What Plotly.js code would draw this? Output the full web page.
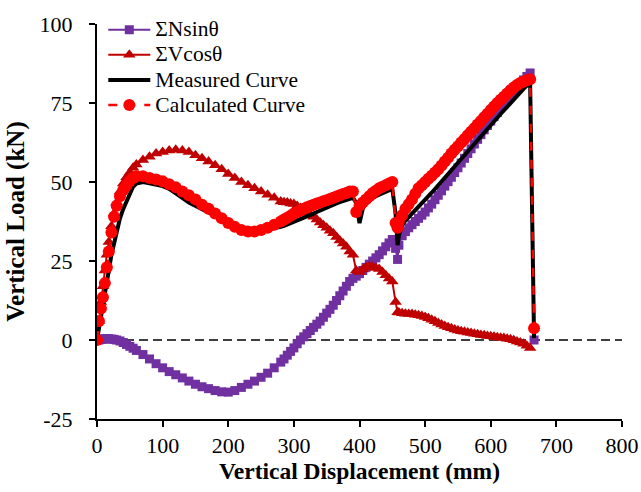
<!DOCTYPE html>
<html>
<head>
<meta charset="utf-8">
<script src="https://cdn.plot.ly/plotly-3.0.1.min.js"></script>
<style>html,body{margin:0;padding:0;background:#fff;}#chart{width:641px;height:492px;}</style>
</head>
<body>
<div id="chart"></div>
<script>
// Vertical displacement (mm)
const displacement = [0, 3, 6, 9, 12, 15, 18, 22, 26, 30, 35, 40, 45, 50, 55, 60, 70, 80, 90, 100,
  110, 120, 130, 140, 150, 160, 170, 180, 190, 200, 210, 220, 230, 240, 250, 260, 270,
  280, 285, 290, 295, 300, 305, 310, 315, 320, 325, 330, 335, 340, 345, 350, 355, 360, 365, 370, 375,
  380, 385, 390, 395, 400, 405, 410, 415, 420, 425, 430, 435, 440, 445, 450, 455, 458, 460, 465, 470, 475,
  480, 485, 490, 495, 500, 505, 510, 515, 520, 525, 530, 535, 540, 545, 550, 555, 560, 565, 570, 575,
  580, 585, 590, 595, 600, 605, 610, 615, 620, 625, 630, 635, 640, 645, 650, 655, 660, 666];

// ΣNsinθ (kN)
const nSin = [0, 0, 0.2, 0.3, 0.4, 0.4, 0.4, 0.3, 0.2, 0, -0.3, -0.8, -1.4, -2, -2.6, -3.3, -4.6, -6, -7.5, -8.8,
  -10, -11, -12, -13, -14, -14.8, -15.4, -16, -16.4, -16.5, -16, -15, -14, -13, -11.8, -10.5, -8.8,
  -7, -6, -4.8, -3.6, -2.5, -1.2, 0, 1, 2, 3, 4, 5, 6, 7.2, 8.5, 9.7, 11, 12.5, 14, 15.5,
  17, 18.5, 19.5, 20.2, 21, 22, 23, 24, 25, 26, 27, 28.2, 29.5, 30.7, 31.8, 29, 25.5, 30, 33, 34.3, 35.5,
  36.5, 37.5, 38.5, 39.5, 40.5, 41.8, 43, 44.4, 45.8, 47.2, 48.7, 50.1, 51.5, 53, 54.5, 56, 57.5, 59, 60.5, 62,
  63.5, 65, 66.5, 67.9, 69.3, 70.7, 72, 73.4, 74.7, 76, 77.3, 78.6, 79.8, 81.1, 82.3, 83.4, 84.5, 0];

// ΣVcosθ (kN)
const vCos = [0, 6, 12, 17, 22, 27, 31, 36, 40, 43.5, 47, 49.5, 51.5, 53, 54.5, 55.5, 57, 58, 59, 59.5,
  60, 60.2, 60, 59.5, 58.5, 57.5, 56.5, 55.3, 54, 52.5, 51.3, 50, 49, 48, 47, 46, 45,
  43.8, 43.6, 43.5, 43.2, 43, 42.4, 41.8, 41, 40.3, 39.7, 39, 38.1, 37.2, 36.3, 35.5, 34.6, 33.8, 32.6, 31.5, 30.5,
  29.5, 28, 27, 22, 21.5, 22.3, 23, 23.3, 23.2, 22.8, 22.5, 21.5, 20.5, 19.5, 18.5, 12, 8.8, 8.7, 8.5, 8.3, 8.2,
  8.2, 8, 7.8, 7.6, 7.3, 6.9, 6.4, 5.9, 5.4, 4.9, 4.4, 4, 3.7, 3.3, 3, 2.8, 2.6, 2.4, 2.2, 2,
  1.8, 1.6, 1.5, 1.3, 1.2, 1, 0.9, 0.7, 0.6, 0.4, 0.2, -0.1, -0.5, -0.8, -1.2, -1.8, -2.5, null];

// Measured curve (kN)
const measured = [0, 4, 8, 11, 15, 18, 22, 27, 31, 34, 38.5, 41.5, 44, 46.5, 48.5, 49.5, 50, 49.6, 49.3, 48.7,
  47.8, 46.5, 45, 43.5, 42.5, 41.5, 40.5, 39.5, 38.5, 37.5, 36.2, 35, 34.6, 34.4, 34.6, 34.9, 35.3,
  35.8, 36.1, 36.5, 36.9, 37.3, 37.8, 38.2, 38.6, 39, 39.5, 40, 40.5, 41, 41.5, 42, 42.4, 42.8, 43.2, 43.6, 44,
  44.3, 44.8, 45, 43.5, 37, 41.5, 43.5, 44.3, 45, 45.5, 46, 46.5, 47, 47.5, 47.8, 40, 30, 33, 36.5, 37.8, 38.9,
  40, 40.9, 41.8, 43, 44.2, 45.4, 46.6, 47.8, 49, 50.2, 51.5, 52.7, 53.9, 55.1, 56.3, 57.5, 58.7, 59.9, 61, 62.2,
  63.4, 64.6, 65.8, 67, 68.1, 69.3, 70.4, 71.6, 72.7, 73.8, 75, 76.1, 77.3, 78.4, 79.5, 80.5, 81.5, 0.6];

// Calculated curve (kN)
const calculated = [0, 6, 10, 13.5, 18, 23, 28, 34, 39, 42.5, 45.5, 47.5, 49, 50.3, 51.3, 51.8, 51.8, 51.3, 50.8, 50.2,
  49.3, 48.3, 47, 45.8, 44.5, 42.8, 41.5, 40, 38.5, 37, 35.8, 34.8, 34.3, 34.3, 34.8, 35.5, 36.5,
  37.5, 38.1, 38.7, 39.3, 40, 40.5, 41, 41.5, 42, 42.4, 42.8, 43.2, 43.5, 43.9, 44.2, 44.6, 45, 45.4, 45.8, 46.2,
  46.5, 47, 47, 40.5, 42.5, 43.5, 44.5, 45.5, 46.5, 47.2, 48, 48.5, 49, 49.5, 50, 37, 35.5, 37.5, 39.5, 41.5, 43,
  44.5, 46.3, 48, 49, 50, 51, 52, 53, 54, 55.2, 56.5, 57.7, 59, 60.2, 61.3, 62.5, 63.6, 64.8, 65.9, 67,
  68.2, 69.3, 70.5, 71.6, 72.8, 73.9, 75, 76, 77, 78, 79, 79.9, 80.7, 81.3, 81.8, 82.2, 82.5, 3.7];

const seriesNames = ['ΣNsinθ', 'ΣVcosθ', 'Measured Curve', 'Calculated Curve'];
const xTicks = [0, 100, 200, 300, 400, 500, 600, 700, 800];
const yTicks = [-25, 0, 25, 50, 75, 100];

const serif = 'Liberation Serif, Times New Roman, serif';
const legendName = s => '<span style="font-size:21.5px">' + s + '</span>';

const traces = [
  {x: displacement, y: nSin, name: legendName(seriesNames[0]), type: 'scatter', mode: 'lines+markers',
   line: {color: '#7030A0', width: 2}, marker: {symbol: 'square', size: 9, color: '#7030A0', line: {width: 0}}},
  {x: displacement, y: vCos, name: legendName(seriesNames[1]), type: 'scatter', mode: 'lines+markers',
   line: {color: '#C00000', width: 2}, marker: {symbol: 'triangle-up', size: 11, color: '#C00000', line: {width: 0}}},
  {x: displacement, y: measured, name: legendName(seriesNames[2]), type: 'scatter', mode: 'lines',
   line: {color: '#000000', width: 4}},
  {x: displacement, y: calculated, name: legendName(seriesNames[3]), type: 'scatter', mode: 'lines+markers',
   line: {color: '#FF0000', width: 2.5, dash: 'dash'}, marker: {symbol: 'circle', size: 12, color: '#FF0000', line: {width: 0}}}
];

const layout = {
  width: 641, height: 492,
  margin: {l: 97, r: 19, t: 17, b: 73},
  paper_bgcolor: '#ffffff', plot_bgcolor: '#ffffff',
  font: {family: serif, size: 22, color: '#000000'},
  showlegend: true,
  legend: {x: 0.012, y: 1.03, xanchor: 'left', yanchor: 'top', bgcolor: 'rgba(0,0,0,0)',
    font: {family: serif, size: 17, color: '#000'}, tracegroupgap: 0, itemwidth: 42},
  xaxis: {
    range: [0, 800], tickvals: xTicks, ticktext: xTicks.map(String),
    showgrid: false, zeroline: false, showline: true, linecolor: '#000', linewidth: 2,
    ticks: 'outside', ticklen: 6, tickwidth: 2, tickcolor: '#000',
    tickfont: {family: serif, size: 22, color: '#000'},
    title: {text: 'Vertical Displacement (mm)', font: {family: serif, size: 23.5, color: '#000', weight: 'bold'}, standoff: 4}
  },
  yaxis: {
    range: [-25, 100], tickvals: yTicks, ticktext: yTicks.map(String),
    showgrid: false, zeroline: false, showline: true, linecolor: '#000', linewidth: 2,
    ticks: 'outside', ticklen: 6, tickwidth: 2, tickcolor: '#000', ticklabelstandoff: 12,
    tickfont: {family: serif, size: 22, color: '#000'},
    title: {text: 'Vertical Load (kN)', font: {family: serif, size: 25, color: '#000', weight: 'bold'}, standoff: 8}
  },
  shapes: [{type: 'line', xref: 'x', yref: 'y', x0: 0, x1: 800, y0: 0, y1: 0, layer: 'below',
    line: {color: '#000', width: 1.5, dash: '9px,5px'}}]
};

Plotly.newPlot('chart', traces, layout, {displayModeBar: false, staticPlot: true});
</script>
</body>
</html>
